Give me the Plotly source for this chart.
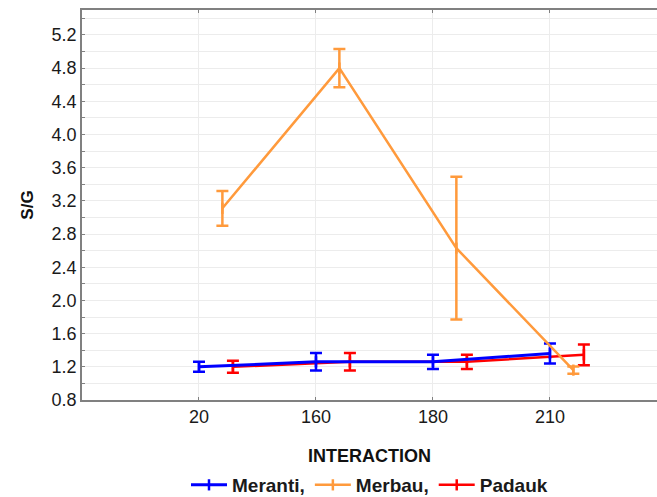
import plotly.graph_objects as go

categories = ["20", "160", "180", "210"]
series_names = ["Meranti,", "Merbau,", "Padauk"]

meranti = [1.20, 1.26, 1.26, 1.36]
meranti_err = [0.06, 0.105, 0.085, 0.12]
merbau = [3.11, 4.80, 2.63, 1.16]
merbau_err = [0.21, 0.23, 0.86, 0.045]
padauk = [1.20, 1.26, 1.26, 1.345]
padauk_err = [0.072, 0.105, 0.085, 0.125]

colors = {"Meranti,": "#0000FF", "Merbau,": "#FF9A3C", "Padauk": "#FF0000"}
offsets = {"Meranti,": 0.0, "Merbau,": 0.2, "Padauk": 0.29}
widths = {"Meranti,": 3, "Merbau,": 2.5, "Padauk": 2.5}
data = {"Meranti,": (meranti, meranti_err),
        "Merbau,": (merbau, merbau_err),
        "Padauk": (padauk, padauk_err)}
rank = {"Meranti,": 1, "Merbau,": 2, "Padauk": 3}

FONT = "Arial, Liberation Sans, sans-serif"

fig = go.Figure()
for name in ["Padauk", "Meranti,", "Merbau,"]:
    vals, errs = data[name]
    c = colors[name]
    fig.add_trace(go.Scatter(
        x=[i + offsets[name] for i in range(len(categories))],
        y=vals,
        name=name,
        legendrank=rank[name],
        mode="lines+markers",
        line=dict(color=c, width=widths[name]),
        marker=dict(symbol="line-ns-open", size=8, color=c,
                    line=dict(color=c, width=2.5)),
        error_y=dict(type="data", array=errs, visible=True,
                     color=c, thickness=2.5, width=6),
    ))

fig.update_layout(
    width=657, height=497,
    margin=dict(l=82, r=0, t=10, b=97, autoexpand=False),
    paper_bgcolor="white", plot_bgcolor="white",
    font=dict(family=FONT, size=17, color="#1a1a1a"),
    showlegend=True,
    legend=dict(orientation="h", x=0.5, xanchor="center", xref="paper",
                y=1 - 485 / 497, yanchor="middle", yref="container",
                font=dict(family=FONT, size=19, color="#1a1a1a", weight="bold"),
                itemwidth=36, tracegroupgap=0),
)
fig.update_xaxes(
    range=[-1.0, 3.915],
    tickmode="array", tickvals=list(range(len(categories))), ticktext=categories,
    showgrid=True, gridcolor="#ececec", gridwidth=1,
    showline=True, linecolor="#808080", linewidth=1.5, mirror="ticks",
    ticks="inside", ticklen=3, tickcolor="#808080",
    zeroline=False,
    tickfont=dict(family=FONT, size=18, color="#1a1a1a"),
    title=dict(text="INTERACTION", standoff=24,
               font=dict(family=FONT, size=18, color="#111", weight="bold")),
)
fig.update_yaxes(
    range=[0.8, 5.5],
    tick0=0.8, dtick=0.4, tickformat=".1f",
    showgrid=True, gridcolor="#ececec", gridwidth=1,
    minor=dict(dtick=0.2, tick0=0.8, showgrid=True, gridcolor="#ececec",
               ticks="inside", ticklen=3, tickcolor="#808080"),
    showline=True, linecolor="#808080", linewidth=1.5,
    ticks="inside", ticklen=3, tickcolor="#808080",
    zeroline=False,
    tickfont=dict(family=FONT, size=18, color="#1a1a1a"),
    title=dict(text="S/G", standoff=14,
               font=dict(family=FONT, size=17, color="#111", weight="bold")),
)

fig.write_html("out.html")
